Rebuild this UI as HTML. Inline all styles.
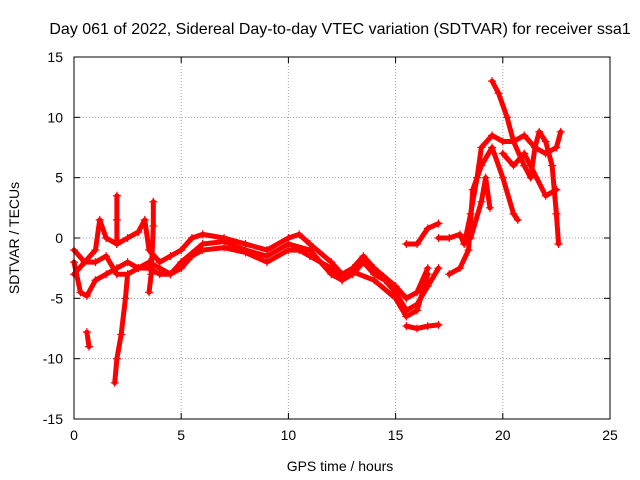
<!DOCTYPE html>
<html><head><meta charset="utf-8"><style>
body{margin:0;background:#fff;}
svg{display:block;font-family:"Liberation Sans",sans-serif;}
</style></head><body>
<svg id="chart" width="640" height="480" viewBox="0 0 640 480">
<rect x="0" y="0" width="640" height="480" fill="#fff"/>
<text x="340" y="34" text-anchor="middle" font-size="16" fill="#000">Day 061 of 2022, Sidereal Day-to-day VTEC variation (SDTVAR) for receiver ssa1</text>
<g id="grid"></g>
<g id="axes"></g>
<g id="series"></g>
<rect x="74" y="57" width="536" height="362" fill="none" stroke="#000" stroke-width="1"/>
<text x="340" y="471" text-anchor="middle" font-size="14">GPS time / hours</text>
<text transform="translate(19,238) rotate(-90)" text-anchor="middle" font-size="14">SDTVAR / TECUs</text>
</svg>
<script>
const xTicks=[0,5,10,15,20,25];
const yTicks=[-15,-10,-5,0,5,10,15];
const trackA=[[0,-2],[0.3,-4.5],[0.6,-4.8],[1,-3.5],[1.5,-3],[2,-2.5],[2.5,-2],[3,-2.5],[3.5,-2.5],[4,-3],[4.5,-3],[5,-2.5],[5.5,-1.5],[6,-1],[7,-0.8],[8,-1.2],[9,-2],[10,-1],[10.5,-1],[11,-1.5],[12,-2.5],[12.5,-3.5],[13,-3],[13.5,-2],[14,-3],[14.5,-3.5],[15,-4.5],[15.5,-6],[16,-5.5],[16.5,-4],[17,-2.5]];
const trackB=[[0,-1],[0.5,-2],[1,-1],[1.2,1.5],[1.5,0],[2,-0.5],[2.5,0],[3,0.5],[3.3,1.5],[3.5,-1],[4,-2],[4.5,-1.5],[5,-1],[5.5,0],[6,0.3],[7,0],[8,-0.5],[9,-1],[10,0],[10.5,0.3],[11,-0.5],[12,-2],[12.5,-3],[13,-2.5],[13.5,-1.5],[14,-2.5],[15,-4],[15.5,-5],[16,-4.5],[16.5,-2.5]];
const trackC=[[0,-3],[0.5,-2],[1,-2],[1.5,-1.5],[2,-3],[2.5,-3],[3,-2.5],[3.5,-2],[4,-2.5],[4.5,-3],[5,-2],[6,-0.5],[7,-0.3],[8,-1],[9,-1.5],[10,-0.5],[11,-1],[12,-3],[12.5,-3.5],[13,-2.8],[14,-3.5],[15,-5],[15.5,-6.5],[16,-6],[16.5,-3]];
const trackD=[[1.9,-12],[2,-10],[2.2,-8],[2.4,-5],[2.5,-3]];
const trackE=[[0.6,-7.8],[0.7,-9]];
const trackF=[[15.5,-7.3],[16,-7.5],[16.5,-7.3],[17,-7.2]];
const trackG=[[15.5,-0.5],[16,-0.5],[16.5,0.8],[17,1.2]];
const trackH=[[17,0],[17.5,0],[18,0.3],[18.2,-0.5],[18.5,2],[18.8,5],[19,7.5],[19.5,8.5],[20,8],[20.5,8],[21,8.5],[21.5,7.5],[22,7],[22.5,7.5],[22.7,8.8]];
const trackI=[[17.5,-3],[18,-2.5],[18.4,-1],[18.6,4],[19,6],[19.5,7.5],[20,5],[20.5,2],[20.7,1.5]];
const trackJ=[[19.5,13],[19.8,12],[20.2,10],[20.5,8],[21,6],[21.3,5],[21.5,7.5],[21.7,8.8],[22,8],[22.3,6],[22.5,2],[22.6,-0.5]];
const trackK=[[18.5,0],[19,3],[19.2,5],[19.4,2.5]];
const trackL=[[20,7],[20.5,6],[21,7],[22,3.5],[22.5,4]];
const spike1=[[2,3.5],[2,1.5],[2,-0.5]];
const spike2=[[3.7,3],[3.7,1],[3.6,-3],[3.5,-4.5]];
const tracks=[trackA,trackB,trackC,trackD,trackE,trackF,trackG,trackH,trackI,trackJ,trackK,trackL,spike1,spike2];

const L=74,R=610,T=57,B=419;
const xs=v=>L+(v-0)/25*(R-L);
const ys=v=>B-(v+15)/30*(B-T);
const NS='http://www.w3.org/2000/svg';
const grid=document.getElementById('grid'),axes=document.getElementById('axes'),ser=document.getElementById('series');
function mk(tag,attrs,parent){const e=document.createElementNS(NS,tag);for(const k in attrs)e.setAttribute(k,attrs[k]);parent.appendChild(e);return e;}
xTicks.forEach(t=>{
  const x=xs(t);
  if(t>0&&t<25){const g=mk('line',{x1:x,x2:x,y1:T,y2:B,stroke:'#a0a0a0','stroke-dasharray':'1,2'},grid);
  
  }
  mk('line',{x1:x,x2:x,y1:B,y2:B-6,stroke:'#000'},axes);
  mk('line',{x1:x,x2:x,y1:T,y2:T+6,stroke:'#000'},axes);
  const tx=mk('text',{x:x,y:B+21,'text-anchor':'middle','font-size':'14'},axes);
  tx.textContent=t;
  
  
});
yTicks.forEach(t=>{
  const y=ys(t);
  if(t>-15&&t<15){const g=mk('line',{x1:L,x2:R,y1:y,y2:y,stroke:'#a0a0a0','stroke-dasharray':'1,2'},grid);
  
  }
  mk('line',{x1:L,x2:L+6,y1:y,y2:y,stroke:'#000'},axes);
  mk('line',{x1:R,x2:R-6,y1:y,y2:y,stroke:'#000'},axes);
  const tx=mk('text',{x:L-11,y:y+5,'text-anchor':'end','font-size':'14'},axes);
  tx.textContent=t;
  
  
});
tracks.forEach(tr=>{
  const pl=mk('polyline',{points:tr.map(p=>xs(p[0])+','+ys(p[1])).join(' '),fill:'none',stroke:'#ff0000','stroke-width':'5','stroke-linejoin':'round','stroke-linecap':'round'},ser);
  
  
  tr.forEach(p=>{
    const x=xs(p[0]),y=ys(p[1]);
    const m=mk('path',{d:`M${x-4},${y}h8M${x},${y-4}v8`,stroke:'#ff0000','stroke-width':'1.2'},ser);
    
    
  });
});
</script>
</body></html>
